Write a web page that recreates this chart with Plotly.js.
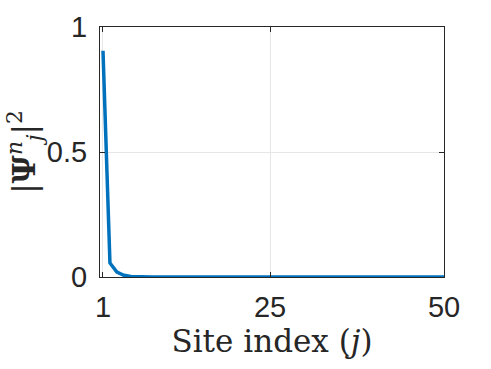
<!DOCTYPE html>
<html>
<head>
<meta charset="utf-8">
<script src="https://cdn.plot.ly/plotly-3.0.1.min.js"></script>
<style>
  html, body { margin: 0; padding: 0; background: #fff; }
  #chart { width: 491px; height: 369px; }
</style>
</head>
<body>
<div id="chart"></div>
<script>
// sites j = 1..50 and probability |Psi_j^n|^2
var siteIndex = [];
for (var j = 1; j <= 50; j++) siteIndex.push(j);
var prob = [0.905, 0.056, 0.02, 0.007, 0.002, 0.0005, 0.0001,
  0, 0, 0, 0, 0, 0, 0, 0, 0, 0, 0, 0, 0, 0, 0, 0, 0, 0,
  0, 0, 0, 0, 0, 0, 0, 0, 0, 0, 0, 0, 0, 0, 0, 0, 0, 0,
  0, 0, 0, 0, 0, 0, 0];
var xTicks = [1, 25, 50];
var yTicks = [0, 0.5, 1];
var yTickText = ['0', '0.5', '1'];

var trace = {
  x: siteIndex, y: prob, type: 'scatter', mode: 'lines',
  line: { color: '#0072BD', width: 3.5 },
  hoverinfo: 'skip'
};

var axisCommon = {
  showline: true, mirror: 'ticks', linecolor: '#262626', linewidth: 1,
  ticks: 'inside', ticklen: 5, tickcolor: '#262626',
  showgrid: true, gridcolor: '#e6e6e6', gridwidth: 1,
  zeroline: false,
  tickfont: { family: 'Liberation Sans, Arial, sans-serif', size: 29, color: '#262626' }
};

var titleFont = { family: 'DejaVu Serif, Liberation Serif, serif', size: 31, color: '#262626' };

var layout = {
  width: 491, height: 369,
  margin: { l: 100, r: 47, t: 27, b: 92 },
  paper_bgcolor: '#fff', plot_bgcolor: '#fff',
  showlegend: false,
  xaxis: Object.assign({}, axisCommon, {
    range: [0.57, 50], tickvals: xTicks, ticktext: xTicks.map(String),
    ticklabelstandoff: 4,
    title: { text: 'Site index (<i>j</i>)', standoff: 2, font: titleFont }
  }),
  yaxis: Object.assign({}, axisCommon, {
    range: [0, 1], tickvals: yTicks, ticktext: yTickText,
    ticklabelstandoff: 6,
    title: { text: '|<b>Ψ</b><sup><i>n</i></sup><sub><i>j</i></sub>|<sup>2</sup>', standoff: 0, font: titleFont }
  })
};

Plotly.newPlot('chart', [trace], layout, { staticPlot: true, displayModeBar: false });
</script>
</body>
</html>
